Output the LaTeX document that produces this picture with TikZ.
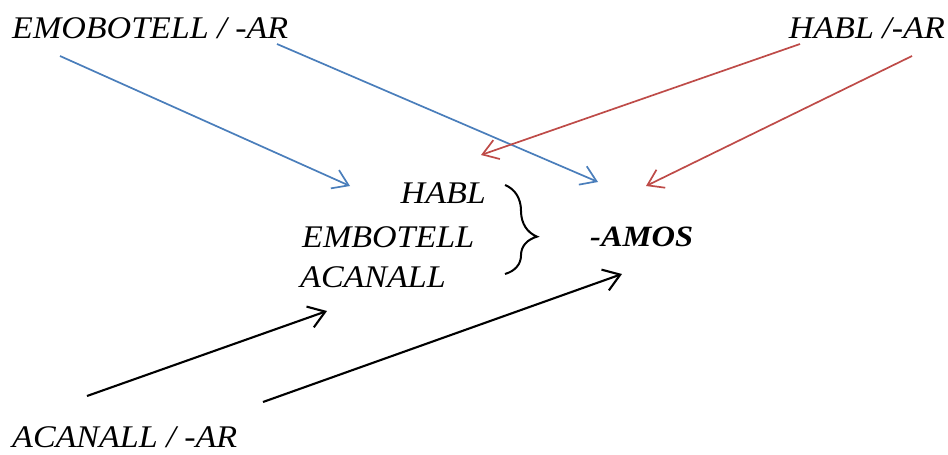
\documentclass[tikz,border=0pt]{standalone}
\usepackage{fontspec}
\setmainfont{Liberation Serif}
\usetikzlibrary{arrows.meta,decorations.pathreplacing}
\definecolor{arrblue}{HTML}{4A7EBB}
\definecolor{arrred}{HTML}{BE4B48}
\tikzset{
  lbl/.style={inner sep=0pt, xscale=1.08, font=\fontsize{31.5}{34}\selectfont\itshape},
  conn/.style={line width=1.7pt, -{Straight Barb[length=15pt,width=20pt,line width=1.7pt]}},
  blueconn/.style={conn, draw=arrblue},
  redconn/.style={conn, draw=arrred},
  blackconn/.style={conn, draw=black, line width=2.1pt, -{Straight Barb[length=16pt,width=22pt,line width=2.1pt]}},
}
\begin{document}
\begin{tikzpicture}[x=1pt,y=-1pt]
\useasboundingbox (0,0) rectangle (948,455);
\node[lbl, anchor=base west] (emob) at (12,38) {EMOBOTELL / -AR};
\node[lbl, anchor=base east] (hablar) at (945,38) {HABL /-AR};
\node[lbl, anchor=base east] (habl) at (486,203) {HABL};
\node[lbl, anchor=base west] (embot) at (302,247) {EMBOTELL};
\node[lbl, anchor=base west] (acan) at (300,287) {ACANALL};
\node[lbl, anchor=base west, xscale=1.02, font=\fontsize{29.5}{32}\selectfont\bfseries\itshape] (amos) at (590,246) {-AMOS};
\node[lbl, anchor=base west] (acanar) at (12,447) {ACANALL / -AR};
% brace
\draw[line width=2pt, decorate, decoration={brace, amplitude=32pt, aspect=0.58}] (505,185) -- (505,274);
% coordinates
\coordinate (b1s) at (60,56);  \coordinate (b1e) at (350,186);
\coordinate (b2s) at (277,44); \coordinate (b2e) at (598,182);
\coordinate (r1s) at (800,44); \coordinate (r1e) at (481,155);
\coordinate (r2s) at (912,56); \coordinate (r2e) at (646,186);
\coordinate (k1s) at (87,396); \coordinate (k1e) at (327,311);
\coordinate (k2s) at (263,402);\coordinate (k2e) at (622,274);
\draw[blueconn] (b1s) -- (b1e);
\draw[blueconn] (b2s) -- (b2e);
\draw[redconn] (r1s) -- (r1e);
\draw[redconn] (r2s) -- (r2e);
\draw[blackconn] (k1s) -- (k1e);
\draw[blackconn] (k2s) -- (k2e);
\end{tikzpicture}
\end{document}
